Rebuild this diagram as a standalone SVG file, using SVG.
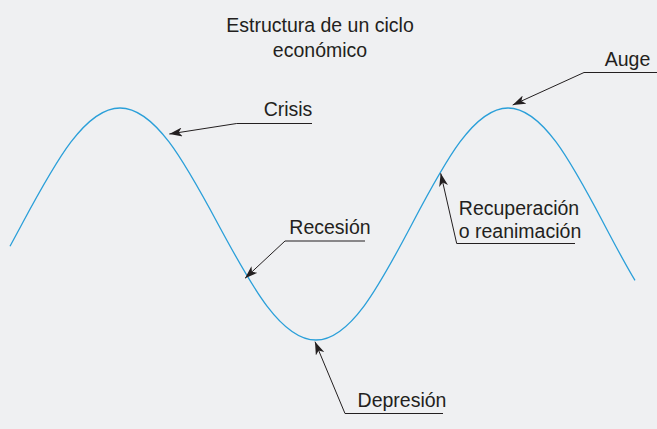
<svg xmlns="http://www.w3.org/2000/svg" width="657" height="429" viewBox="0 0 657 429">
<style>
text{font-family:"Liberation Sans",Arial,sans-serif;font-size:19.5px;fill:#231f20;text-anchor:middle}
.lead{fill:none;stroke:#231f20;stroke-width:1;marker-end:url(#ah)}
.curve{fill:none;stroke:#2a9fd9;stroke-width:1.3}
</style>
<defs>
<marker id="ah" viewBox="0 0 13 9" refX="13" refY="4.5" markerWidth="13" markerHeight="9" markerUnits="userSpaceOnUse" orient="auto">
<path d="M0,0 L13,4.5 L0,9 L3.5,4.5 Z" fill="#231f20"/>
</marker>
</defs>
<rect width="657" height="429" fill="#eff0f2"/>
<g id="title">
<text x="320" y="32">Estructura de un ciclo</text>
<text x="320" y="57">económico</text>
</g>
<g id="ciclo">
<path class="curve" d="M10,246.2 C14,238.9 18,231.44 22,224 C38.33,193.63 54.67,163.45 71,141.98 C87.33,120.51 103.67,108 120,108 C136.33,108 152.67,120.51 169,141.98 C185.33,163.45 201.67,193.63 218,224 C234.33,254.37 250.67,284.55 267,306.02 C283.33,327.49 299.67,340 316,340 C332,340 348,327.49 364,306.02 C380,284.55 396,254.37 412,224 C428,193.63 444,163.45 460,141.98 C476,120.51 492,108 508,108 C524,108 540,120.51 556,141.98 C572,163.45 588,193.63 604,224 C614.33,243.61 624.67,263.27 635,280.4"/>
</g>
<g id="crisis"><text x="288" y="116">Crisis</text></g>
<g id="auge"><text x="627.5" y="66">Auge</text></g>
<g id="recesion"><text x="330" y="234">Recesión</text></g>
<g id="depresion"><text x="402" y="407">Depresión</text></g>
<g id="recuperacion"><text x="519" y="215">Recuperación</text><text x="520" y="238">o reanimación</text></g>
<g id="connectors">
<polyline class="lead" points="312,123.5 236.7,123.5 169.3,134"/>
<polyline class="lead" points="657,72.5 584,72.5 512.7,105"/>
<polyline class="lead" points="365,241 285,241 245,278.3"/>
<polyline class="lead" points="443,413.5 345,413.5 315,341.7"/>
<polyline class="lead" points="575,243.5 456.7,243.5 440.7,173.3"/>
</g>
</svg>
